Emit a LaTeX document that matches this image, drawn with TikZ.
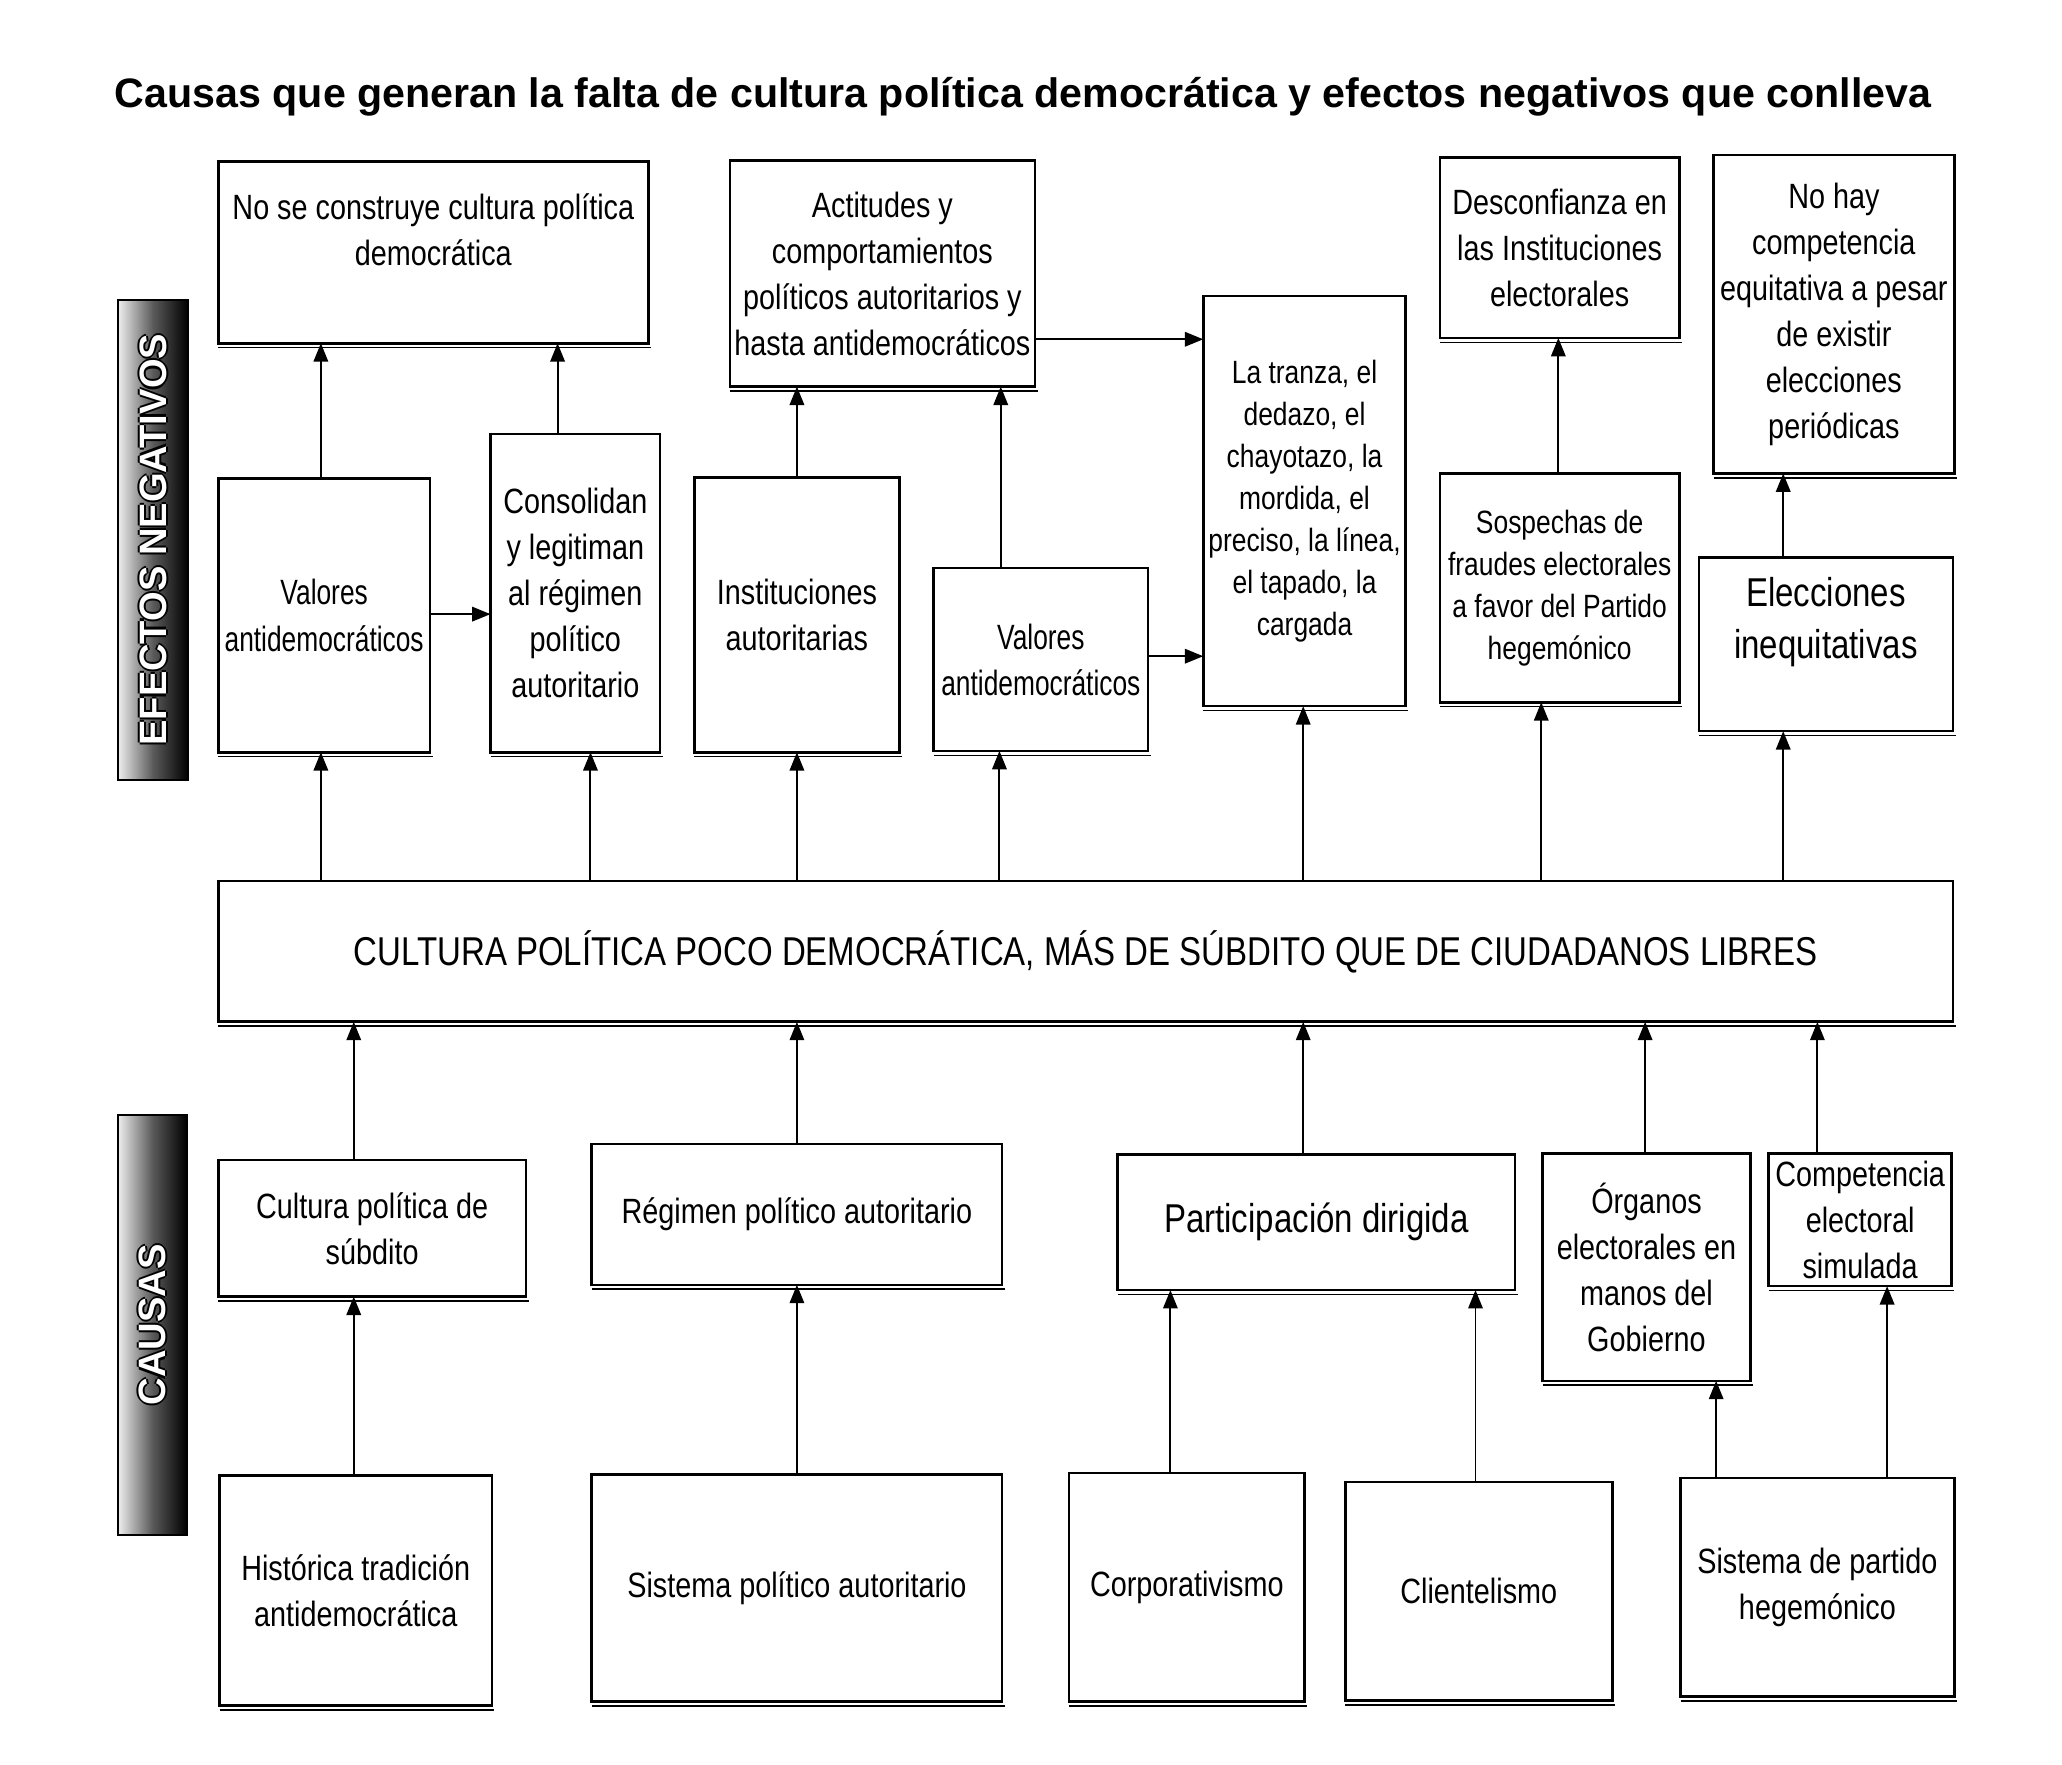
\documentclass[tikz,border=0pt]{standalone}
\usepackage{fontspec}
\setmainfont{Liberation Sans}[FakeStretch=0.82]
\newfontfamily\titlefont{Liberation Sans}
\newfontfamily\narrowerfont{Liberation Sans}[FakeStretch=0.75]
\usetikzlibrary{arrows.meta}
\newcommand\normf{\fontsize{13.35pt}{17.5pt}\selectfont}
\newcommand\narrf{\narrowerfont\fontsize{13.35pt}{17.5pt}\selectfont}
\newcommand\smallf{\fontsize{12.25pt}{16pt}\selectfont}
\newcommand\largef{\fontsize{15.3pt}{20pt}\selectfont}
\newcommand\olt[1]{\begingroup\setbox0\hbox{#1}%
 \rlap{\hskip0.8pt\color{black}\copy0}%
 \rlap{\hskip-0.8pt\color{black}\copy0}%
 \rlap{\raise0.8pt\hbox{\color{black}\copy0}}%
 \rlap{\lower0.8pt\hbox{\color{black}\copy0}}%
 {\color{white}\copy0}\endgroup}
\tikzset{
  box/.style={draw, line width=1pt, align=center, inner xsep=1pt, inner ysep=2pt, outer sep=0pt, font=\normf},
  shadowline/.style={line width=0.6pt},
  arr/.style={line width=0.75pt, -{Triangle[length=7pt,width=5.5pt]}},
  sidelabel/.style={rotate=90, draw, line width=0.8pt, left color=gray!15, right color=black, middle color=black!65,
     font=\titlefont\bfseries\fontsize{14.5pt}{17pt}\selectfont, inner sep=0pt, outer sep=0pt}
}
% #1 extra style, #2 name, #3 x1, #4 y1, #5 x2, #6 y2, #7 text
\newcommand{\diabox}[7][]{%
  \pgfmathsetmacro\bw{(#5-#3)*0.5}%
  \pgfmathsetmacro\bh{(#6-#4)*0.5}%
  \node[box, minimum width=\bw pt, minimum height=\bh pt, #1] (#2) at ({(#3+#5)/2},{(#4+#6)/2}) {#7};
  \draw[shadowline] ([yshift=-1.7pt]#2.south west) -- ([yshift=-1.7pt,xshift=1pt]#2.south east);
}
\begin{document}
\begin{tikzpicture}[x=0.5pt,y=-0.5pt]
\useasboundingbox (0,0) rectangle (1568,1342);

% title
\node[anchor=base, font=\titlefont\bfseries\fontsize{15.65pt}{19pt}\selectfont, inner sep=0pt] (title) at (778,82)
  {Causas que generan la falta de cultura política democrática y efectos negativos que conlleva};

% side labels
\node[sidelabel, minimum width=182.5pt, minimum height=26.5pt] (lblE) at (116.5,410.5) {\olt{EFECTOS NEGATIVOS}};
\node[sidelabel, minimum width=159.5pt, minimum height=26pt] (lblC) at (116,1007.5) {\olt{CAUSAS}};

% effects
\diabox{T1}{166}{123}{493}{261}{No se construye cultura política\\democrática\\~}
\diabox{T2}{555}{122}{787}{294}{Actitudes y\\comportamientos\\políticos autoritarios y\\hasta antidemocráticos}
\diabox{T3}{1095}{120}{1277}{257}{Desconfianza en\\las Instituciones\\electorales}
\diabox{T4}{1303}{118}{1486}{360}{No hay\\competencia\\equitativa a pesar\\de existir\\elecciones\\periódicas}
\diabox[font=\smallf]{TR}{915}{225}{1069}{537}{La tranza, el\\dedazo, el\\chayotazo, la\\mordida, el\\preciso, la línea,\\el tapado, la\\cargada}
\diabox[font=\narrf]{M1}{166}{364}{327}{572}{Valores\\antidemocráticos}
\diabox{M2}{373}{330}{502}{572}{Consolidan\\y legitiman\\al régimen\\político\\autoritario}
\diabox{M3}{528}{363}{684}{572}{Instituciones\\autoritarias}
\diabox[font=\narrf]{M4}{710}{432}{873}{571}{Valores\\antidemocráticos}
\diabox[font=\smallf]{M5}{1095}{360}{1277}{534}{Sospechas de\\fraudes electorales\\a favor del Partido\\hegemónico}
\diabox[font=\largef]{M6}{1292}{424}{1485}{556}{Elecciones\\inequitativas\\~}

% center
\diabox[font=\largef]{CE}{166}{670}{1485}{777}{CULTURA POLÍTICA POCO DEMOCRÁTICA, MÁS DE SÚBDITO QUE DE CIUDADANOS LIBRES}

% causes
\diabox{C1}{166}{882}{400}{986}{Cultura política de\\súbdito}
\diabox{C2}{450}{870}{762}{977}{Régimen político autoritario}
\diabox[font=\largef]{C3}{850}{878}{1152}{981}{Participación dirigida}
\diabox{C4}{1173}{877}{1331}{1050}{Órganos\\electorales en\\manos del\\Gobierno}
\diabox{C5}{1345}{877}{1484}{978}{Competencia\\electoral\\simulada}
\diabox{B1}{167}{1122}{374}{1297}{Histórica tradición\\antidemocrática}
\diabox{B2}{450}{1121}{762}{1294}{Sistema político autoritario}
\diabox{B3}{813}{1120}{992}{1294}{Corporativismo}
\diabox{B4}{1023}{1127}{1226}{1293}{Clientelismo}
\diabox{B5}{1278}{1124}{1486}{1290}{Sistema de partido\\hegemónico}

% helper coordinates for connector positions
\foreach \xx in {244,269,424,449,606,760,761,890,991,1122,1172,1185,1251,1305,1356,1382,1435}
  \coordinate (v\xx) at (\xx,0);
\coordinate (h467) at (0,467);
\coordinate (h258) at (0,258);
\coordinate (h499) at (0,499);

% center -> effects
\draw[arr] (CE.north -| v244) -- (M1.south -| v244);
\draw[arr] (CE.north -| v449) -- (M2.south -| v449);
\draw[arr] (CE.north -| v606) -- (M3.south -| v606);
\draw[arr] (CE.north -| v760) -- (M4.south -| v760);
\draw[arr] (CE.north -| v991) -- (TR.south -| v991);
\draw[arr] (CE.north -| v1172) -- (M5.south -| v1172);
\draw[arr] (CE.north -| v1356) -- (M6.south -| v1356);
% effects chains
\draw[arr] (M1.north -| v244) -- (T1.south -| v244);
\draw[arr] (M2.north -| v424) -- (T1.south -| v424);
\draw[arr] (M1.east |- h467) -- (M2.west |- h467);
\draw[arr] (M3.north -| v606) -- (T2.south -| v606);
\draw[arr] (M4.north -| v761) -- (T2.south -| v761);
\draw[arr] (T2.east |- h258) -- (TR.west |- h258);
\draw[arr] (M4.east |- h499) -- (TR.west |- h499);
\draw[arr] (M5.north -| v1185) -- (T3.south -| v1185);
\draw[arr] (M6.north -| v1356) -- (T4.south -| v1356);
% causes -> center
\draw[arr] (C1.north -| v269) -- (CE.south -| v269);
\draw[arr] (C2.north -| v606) -- (CE.south -| v606);
\draw[arr] (C3.north -| v991) -- (CE.south -| v991);
\draw[arr] (C4.north -| v1251) -- (CE.south -| v1251);
\draw[arr] (C5.north -| v1382) -- (CE.south -| v1382);
% roots -> causes
\draw[arr] (B1.north -| v269) -- (C1.south -| v269);
\draw[arr] (B2.north -| v606) -- (C2.south -| v606);
\draw[arr] (B3.north -| v890) -- (C3.south -| v890);
\draw[arr] (B4.north -| v1122) -- (C3.south -| v1122);
\draw[arr] (B5.north -| v1305) -- (C4.south -| v1305);
\draw[arr] (B5.north -| v1435) -- (C5.south -| v1435);
\end{tikzpicture}
\end{document}
